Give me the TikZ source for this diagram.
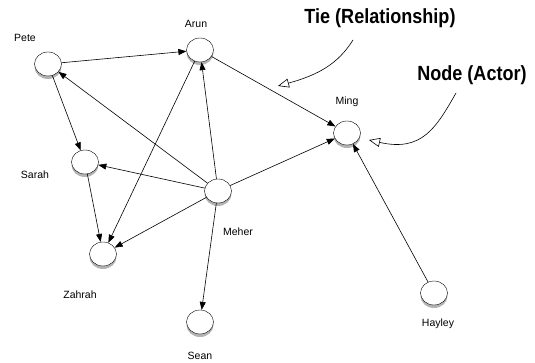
\documentclass[tikz,border=0pt]{standalone}
\usepackage{fontspec}
\setmainfont{Liberation Sans}
\usetikzlibrary{shapes.geometric, shadows, arrows.meta}

\begin{document}
\begin{tikzpicture}[x=1pt, y=-1pt, line join=round, line cap=round,
		actor/.style={ellipse, draw, fill=white, minimum width=27pt, minimum height=24pt, inner sep=0pt,
			drop shadow={shadow xshift=0pt, shadow yshift=-3pt, opacity=0.6, fill=gray}},
		actorlabel/.style={font=\fontsize{10.5}{12}\selectfont},
		tie/.style={-{Triangle[length=8pt, width=6pt]}, semithick},
		note/.style={font=\bfseries\fontsize{20.5}{24}\selectfont},
		pointer/.style={-{Triangle[open, length=11pt, width=9pt]}, semithick}]
	\useasboundingbox (0,0) rectangle (535,363);
	\node[actor] (pete) at (48,64) {};
	\node[actor] (arun) at (200,50) {};
	\node[actor] (ming) at (347,133) {};
	\node[actor] (sarah) at (85,162) {};
	\node[actor] (meher) at (218,191) {};
	\node[actor] (zahrah) at (103,254) {};
	\node[actor] (sean) at (200,322) {};
	\node[actor] (hayley) at (434,293) {};
	\node[actorlabel] (petel) at (25,38) {Pete};
	\node[actorlabel] (arunl) at (196,24) {Arun};
	\node[actorlabel] (mingl) at (347,102) {Ming};
	\node[actorlabel] (sarahl) at (35,175) {Sarah};
	\node[actorlabel] (meherl) at (238,232) {Meher};
	\node[actorlabel] (zahrahl) at (80,295) {Zahrah};
	\node[actorlabel] (seanl) at (200,356) {Sean};
	\node[actorlabel] (hayleyl) at (438,324) {Hayley};
	\draw[tie] (pete) -- (arun);
	\draw[tie] (pete) -- (sarah);
	\draw[tie] (meher) -- (pete);
	\draw[tie] (arun) -- (zahrah);
	\draw[tie] (meher) -- (arun);
	\draw[tie] (arun) -- (ming);
	\draw[tie] (meher) -- (sarah);
	\draw[tie] (meher) -- (ming);
	\draw[tie] (sarah) -- (zahrah);
	\draw[tie] (meher) -- (zahrah);
	\draw[tie] (meher) -- (sean);
	\draw[tie] (hayley) -- (ming);
	\node[note] (tienote) at (380,18) {\scalebox{0.88}[1]{Tie (Relationship)}};
	\node[note] (nodenote) at (472,75) {\scalebox{0.88}[1]{Node (Actor)}};
	\coordinate (tiestart) at (353,40);
	\coordinate (tieend) at (278,86);
	\coordinate (nodestart) at (456,93);
	\coordinate (nodeend) at (369,140);
	\draw[pointer] (tiestart) .. controls (338,64) and (318,75) .. (tieend);
	\draw[pointer] (nodestart) .. controls (436,128) and (422,152) .. (nodeend);
\end{tikzpicture}
\end{document}
